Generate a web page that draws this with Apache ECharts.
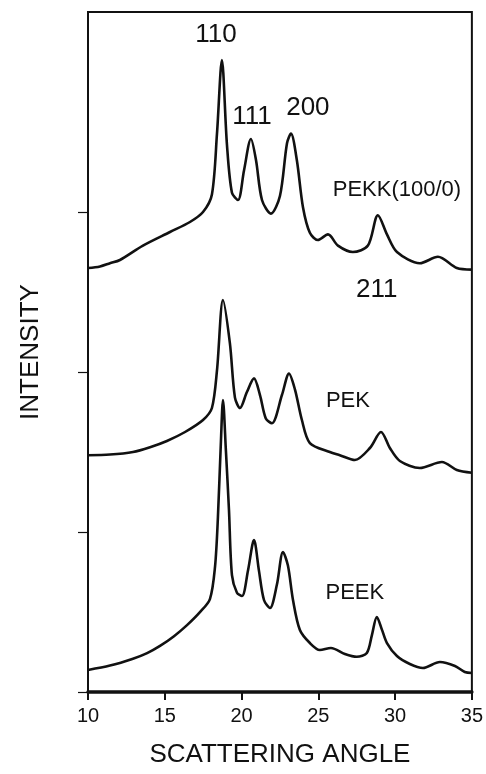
<!DOCTYPE html>
<html>
<head>
<meta charset="utf-8">
<script src="https://cdn.jsdelivr.net/npm/echarts@6/dist/echarts.min.js"></script>
<style>html,body{margin:0;padding:0;background:#fff}#c{width:486px;height:774px}</style>
</head>
<body>
<div id="c"></div>
<script>
// ---- data ----
const xTicks = [10, 15, 20, 25, 30, 35];
const yTicks = [0, 1, 2, 3];

const pekkAngle = [10, 10.78, 11.43, 12.08, 13.58, 15.34, 16.64, 17.49, 18.07, 18.40, 18.72, 19.05, 19.375, 19.77, 20.16, 20.61, 20.94, 21.33, 21.91, 22.5, 22.96, 23.22, 23.6, 24.0, 24.45, 24.97, 25.63, 26.28, 27.25, 28.23, 28.88, 29.47, 30.12, 31.61, 32.79, 34.02, 35];
const pekkIntensity = [2.65, 2.66, 2.68, 2.70, 2.79, 2.875, 2.9375, 3.0, 3.11, 3.49, 3.95, 3.42, 3.12, 3.075, 3.26, 3.456, 3.325, 3.075, 2.99, 3.1, 3.43, 3.49, 3.325, 3.03, 2.87, 2.825, 2.86, 2.79, 2.75, 2.79, 2.98, 2.86, 2.75, 2.68, 2.72, 2.65, 2.64];

const pekAngle = [10, 11.43, 12.93, 14.04, 15.14, 16.32, 17.49, 18.07, 18.40, 18.79, 19.24, 19.57, 19.90, 20.35, 20.81, 21.2, 21.58, 21.98, 22.63, 23.09, 23.48, 23.93, 24.45, 25.75, 26.4, 27.38, 28.36, 29.08, 29.66, 30.31, 31.61, 33.05, 34.02, 35];
const pekIntensity = [1.48, 1.484, 1.5, 1.53, 1.569, 1.625, 1.7, 1.775, 2.01, 2.45, 2.18, 1.84, 1.775, 1.875, 1.96, 1.856, 1.71, 1.68, 1.856, 1.99, 1.89, 1.7, 1.556, 1.5, 1.48, 1.45, 1.525, 1.625, 1.525, 1.444, 1.4, 1.4375, 1.3875, 1.37];

const peekAngle = [10, 11.43, 12.93, 13.85, 14.69, 15.6, 16.45, 17.29, 17.94, 18.27, 18.46, 18.66, 18.79, 18.98, 19.18, 19.375, 19.7, 20.03, 20.42, 20.81, 21.13, 21.46, 21.85, 22.3, 22.7, 23.02, 23.35, 23.8, 24.45, 25.1, 25.82, 26.73, 27.5, 28.16, 28.49, 28.81, 29.14, 29.47, 30.12, 30.96, 31.81, 32.92, 33.9, 34.54, 35];
const peekIntensity = [0.1375, 0.165, 0.208, 0.243, 0.288, 0.349, 0.418, 0.499, 0.581, 0.78, 1.09, 1.575, 1.825, 1.51, 1.14, 0.73, 0.62, 0.6, 0.76, 0.95, 0.76, 0.575, 0.525, 0.67, 0.875, 0.79, 0.575, 0.3875, 0.306, 0.2625, 0.275, 0.2375, 0.22, 0.244, 0.356, 0.469, 0.39, 0.306, 0.225, 0.175, 0.15, 0.1875, 0.1625, 0.125, 0.119];

const peakLabels = ['110', '111', '200', '211'];
const peakLabelAngle = [18.33, 20.68, 24.32, 28.81];
const peakLabelIntensity = [4.106, 3.594, 3.65, 2.5125];

const sampleLabels = ['PEKK(100/0)', 'PEK', 'PEEK'];
const sampleLabelAngle = [30.12, 26.93, 27.38];
const sampleLabelIntensity = [3.1375, 1.82, 0.62];

// ---- chart ----
const zip = (a, b) => a.map((v, i) => [v, b[i]]);
const font = '"Liberation Sans", Arial, sans-serif';
const ink = '#111';

function curve(name, xs, ys) {
  return {
    name, type: 'line', data: zip(xs, ys), showSymbol: false, symbol: 'none',
    smooth: 0.3,
    lineStyle: { color: ink, width: 2.6 }, silent: true, z: 3
  };
}
function labels(texts, xs, ys, size) {
  return {
    type: 'scatter', symbolSize: 0, silent: true, z: 4,
    itemStyle: { opacity: 1 },
    data: texts.map((t, i) => ({ value: [xs[i], ys[i]], name: t })),
    label: {
      show: true, position: 'inside', formatter: p => p.name,
      color: ink, opacity: 1, fontFamily: font, fontSize: size
    }
  };
}

const chart = echarts.init(document.getElementById('c'), null, { renderer: 'canvas' });
chart.setOption({
  backgroundColor: '#fff',
  animation: false,
  grid: { left: 88, right: 14, top: 12, bottom: 82, show: true, borderColor: ink, borderWidth: 2, backgroundColor: 'transparent' },
  xAxis: {
    type: 'value', min: 10, max: 35, interval: 5,
    name: 'SCATTERING ANGLE', nameLocation: 'middle', nameGap: 50,
    nameTextStyle: { color: ink, fontFamily: font, fontSize: 26 },
    axisLine: { show: true, lineStyle: { color: ink, width: 3.5 } },
    axisTick: { show: true, length: 8, lineStyle: { color: ink, width: 2 } },
    axisLabel: { color: ink, fontFamily: font, fontSize: 20, margin: 14, formatter: v => xTicks.includes(v) ? String(v) : '' },
    splitLine: { show: false }
  },
  yAxis: {
    type: 'value', min: 0, max: 4.25,
    name: 'INTENSITY', nameLocation: 'middle', nameGap: 44,
    nameTextStyle: { color: ink, fontFamily: font, fontSize: 26 },
    axisLine: { show: true, lineStyle: { color: ink, width: 2 } },
    axisTick: { show: true, length: 10, customValues: yTicks, lineStyle: { color: ink, width: 1.2 } },
    axisLabel: { show: false },
    splitLine: { show: false }
  },
  series: [
    curve('PEKK(100/0)', pekkAngle, pekkIntensity),
    curve('PEK', pekAngle, pekIntensity),
    curve('PEEK', peekAngle, peekIntensity),
    labels(peakLabels, peakLabelAngle, peakLabelIntensity, 26),
    labels(sampleLabels, sampleLabelAngle, sampleLabelIntensity, 22)
  ]
});
</script>
</body>
</html>
